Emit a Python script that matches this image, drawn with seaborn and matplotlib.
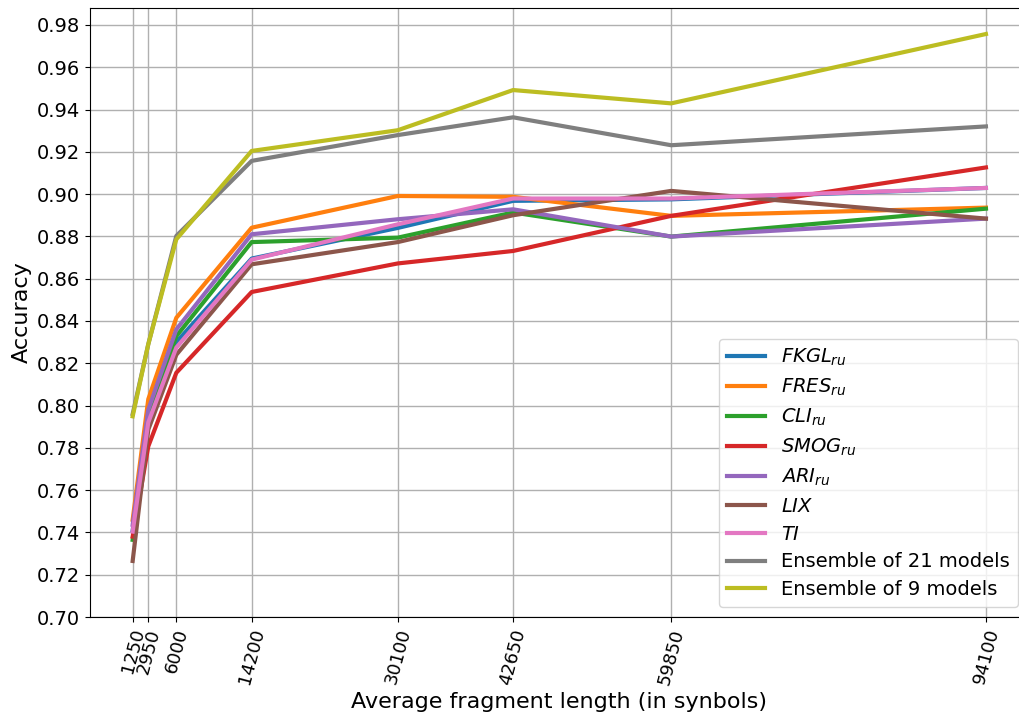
import matplotlib
matplotlib.use("Agg")
import matplotlib.pyplot as plt
import seaborn as sns
import pandas as pd

lengths = [1250, 2950, 6000, 14200, 30100, 42650, 59850, 94100]

fkgl = [0.741, 0.793, 0.830, 0.8695, 0.884, 0.8968, 0.8975, 0.9029]
fres = [0.746, 0.803, 0.8415, 0.8841, 0.8991, 0.8987, 0.8897, 0.8936]
cli = [0.7365, 0.795, 0.8328, 0.8773, 0.8794, 0.8913, 0.8799, 0.8931]
smog = [0.738, 0.7807, 0.8155, 0.8537, 0.8672, 0.8731, 0.8897, 0.9126]
ari = [0.7436, 0.798, 0.836, 0.881, 0.8881, 0.8928, 0.8799, 0.8884]
lix = [0.7265, 0.7886, 0.824, 0.8668, 0.8773, 0.8900, 0.9015, 0.8884]
ti = [0.7404, 0.792, 0.8274, 0.869, 0.8857, 0.8979, 0.8979, 0.9029]
ens21 = [0.796, 0.829, 0.8802, 0.9157, 0.9279, 0.9363, 0.9231, 0.932]
ens9 = [0.7949, 0.829, 0.8786, 0.9204, 0.9302, 0.9492, 0.9429, 0.9757]

labels = [r'$FKGL_{ru}$', r'$FRES_{ru}$', r'$CLI_{ru}$', r'$SMOG_{ru}$',
          r'$ARI_{ru}$', r'$LIX$', r'$TI$', 'Ensemble of 21 models',
          'Ensemble of 9 models']
series = [fkgl, fres, cli, smog, ari, lix, ti, ens21, ens9]

rows = []
for lab, vals in zip(labels, series):
    for x, v in zip(lengths, vals):
        rows.append({'length': x, 'accuracy': v, 'model': lab})
df = pd.DataFrame(rows)

plt.rcParams['font.family'] = ['DejaVu Sans']
fig = plt.figure(figsize=(10.19, 7.13), dpi=100)
W, H = 1019, 713
left, right, top, bottom = 90, 1028.6, 8, 617
ax = fig.add_axes([left / W, (H - bottom) / H, (right - left) / W, (bottom - top) / H])

palette = sns.color_palette('tab10', 9)
sns.lineplot(data=df, x='length', y='accuracy', hue='model', hue_order=labels,
             palette=palette, linewidth=3, ax=ax, legend=True)

ax.set_ylim(0.70, 0.988)
ax.set_xlim(1250 - 0.05 * (94100 - 1250), 94100 + 0.05 * (94100 - 1250))
ax.set_xticks(lengths)
ax.set_xticklabels([str(v) for v in lengths], rotation=75, fontsize=13)
yt = [0.70 + 0.02 * i for i in range(15)]
ax.set_yticks(yt)
ax.set_yticklabels([f'{v:.2f}' for v in yt], fontsize=14)
ax.grid(True, color='#b0b0b0', linewidth=1)
ax.set_xlabel('Average fragment length (in synbols)', fontsize=16)
ax.set_ylabel('Accuracy', fontsize=16)

leg = ax.legend(loc='lower right', bbox_to_anchor=(1017.5 / W, (H - 607) / H),
                bbox_transform=fig.transFigure, fontsize=14, borderaxespad=0,
                labelspacing=0.45)
for line in leg.get_lines():
    line.set_linewidth(3)

fig.savefig('out.png', dpi=100)
